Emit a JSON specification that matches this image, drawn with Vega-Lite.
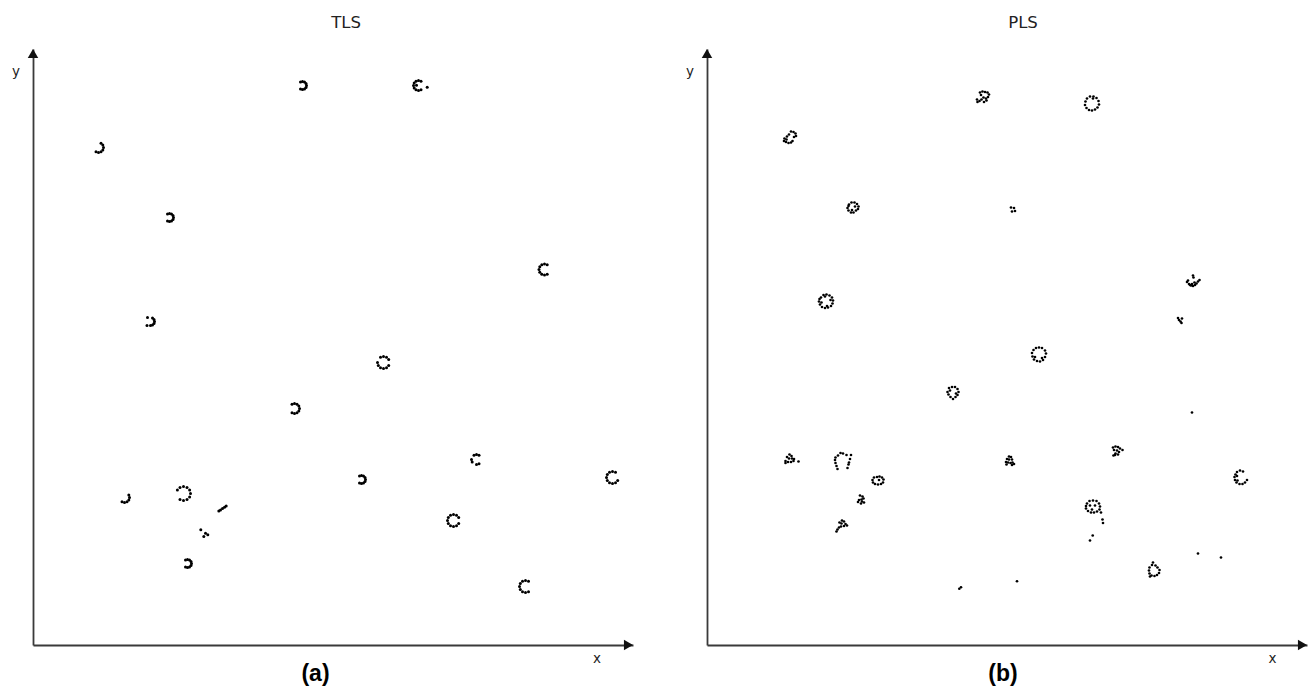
{
  "$schema": "https://vega.github.io/schema/vega-lite/v6.json",
  "background": "white",
  "padding": {"left": 11, "top": 15, "right": 5, "bottom": 5},
  "config": {
    "view": {"stroke": null},
    "axis": {"grid": false, "ticks": false, "labels": false, "domainColor": "#3a3a3a", "domainWidth": 1.8, "titleFont": "DejaVu Sans", "titleFontSize": 13.5, "titleFontWeight": "normal", "titleColor": "#222", "titleAngle": 0, "titleAlign": "center", "titleBaseline": "middle"},
    "title": {"font": "DejaVu Sans", "fontSize": 16.5, "fontWeight": "normal", "color": "#222", "offset": 17}
  },
  "datasets": {
    "tls": [
      {"x":68,"y":501.8},{"x":69.8,"y":500},{"x":70.5,"y":497.5},{"x":69.8,"y":495},{"x":68,"y":493.2},{"x":65.5,"y":492.5},{"x":63,"y":493.2},
      {"x":134.5,"y":431},{"x":136.5,"y":431.5},{"x":138.5,"y":431},{"x":140,"y":429.5},{"x":140.5,"y":427.5},{"x":140,"y":425.5},{"x":138.5,"y":424},{"x":136.5,"y":423.5},{"x":134.5,"y":424},
      {"x":119.5,"y":327},{"x":121,"y":325.5},{"x":121.5,"y":323.5},{"x":121,"y":321.5},{"x":119.5,"y":320},{"x":117.5,"y":319.5},{"x":114.5,"y":327.5},{"x":114,"y":319.5},
      {"x":267.5,"y":563},{"x":269.5,"y":563.5},{"x":271.5,"y":563},{"x":273,"y":561.5},{"x":273.5,"y":559.5},{"x":273,"y":557.5},{"x":271.5,"y":556},{"x":269.5,"y":555.5},{"x":267.5,"y":556},
      {"x":388,"y":563.8},{"x":385.5,"y":564.5},{"x":383,"y":563.8},{"x":381.2,"y":562},{"x":380.5,"y":559.5},{"x":381.2,"y":557},{"x":383,"y":555.2},{"x":385.5,"y":554.5},{"x":388,"y":555.2},{"x":383.5,"y":559.8},{"x":394.2,"y":557.8},
      {"x":514.2,"y":380.2},{"x":511.5,"y":381},{"x":508.8,"y":380.2},{"x":506.8,"y":378.2},{"x":506,"y":375.5},{"x":506.8,"y":372.8},{"x":508.8,"y":370.8},{"x":511.5,"y":370},{"x":514.2,"y":370.8},
      {"x":355.7,"y":285.5},{"x":353.5,"y":287.7},{"x":350.5,"y":288.5},{"x":347.5,"y":287.7},{"x":344.5,"y":282.5},{"x":345.3,"y":279.5},{"x":347.5,"y":277.3},{"x":350.5,"y":276.5},{"x":353.5,"y":277.3},{"x":355.7,"y":279.5},
      {"x":259,"y":240.8},{"x":261.5,"y":241.5},{"x":264,"y":240.8},{"x":265.8,"y":239},{"x":266.5,"y":236.5},{"x":265.8,"y":234},{"x":264,"y":232.2},{"x":261.5,"y":231.5},{"x":259,"y":232.2},
      {"x":446,"y":189.8},{"x":443.5,"y":190.5},{"x":441,"y":189.8},{"x":438.5,"y":185.5},{"x":439.2,"y":183},{"x":443.5,"y":180.5},{"x":446,"y":181.2},
      {"x":326.5,"y":169},{"x":328.5,"y":169.5},{"x":330.5,"y":169},{"x":332,"y":167.5},{"x":332.5,"y":165.5},{"x":332,"y":163.5},{"x":330.5,"y":162},{"x":328.5,"y":161.5},{"x":326.5,"y":162},
      {"x":582.5,"y":172.7},{"x":579.5,"y":173.5},{"x":576.5,"y":172.7},{"x":574.3,"y":170.5},{"x":573.5,"y":167.5},{"x":574.3,"y":164.5},{"x":576.5,"y":162.3},{"x":579.5,"y":161.5},{"x":582.5,"y":162.3},{"x":584.7,"y":164.5},
      {"x":425.7,"y":127.5},{"x":423.5,"y":129.7},{"x":420.5,"y":130.5},{"x":417.5,"y":129.7},{"x":415.3,"y":127.5},{"x":414.5,"y":124.5},{"x":415.3,"y":121.5},{"x":417.5,"y":119.3},{"x":420.5,"y":118.5},{"x":423.5,"y":119.3},{"x":425.7,"y":121.5},
      {"x":495.5,"y":63.7},{"x":492.5,"y":64.5},{"x":489.5,"y":63.7},{"x":487.3,"y":61.5},{"x":486.5,"y":58.5},{"x":487.3,"y":55.5},{"x":489.5,"y":53.3},{"x":492.5,"y":52.5},{"x":495.5,"y":53.3},
      {"x":95.8,"y":150},{"x":96.5,"y":147.5},{"x":95.8,"y":145},{"x":94,"y":143.2},{"x":91.5,"y":142.5},{"x":89,"y":143.2},
      {"x":144.4,"y":155},{"x":147,"y":157.6},{"x":150.5,"y":158.5},{"x":154,"y":157.6},{"x":156.6,"y":155},{"x":157.5,"y":151.5},{"x":156.6,"y":148},{"x":154,"y":145.4},{"x":150.5,"y":144.5},{"x":147,"y":145.4},
      {"x":185.8,"y":134},{"x":187.5,"y":135},{"x":189.5,"y":136.5},{"x":191.5,"y":137.7},{"x":193.2,"y":139},
      {"x":167.8,"y":115.2},{"x":172.5,"y":111.8},{"x":170.8,"y":108.5},{"x":174.8,"y":110.2},
      {"x":152.5,"y":85},{"x":154.5,"y":85.5},{"x":156.5,"y":85},{"x":158,"y":83.5},{"x":158.5,"y":81.5},{"x":158,"y":79.5},{"x":156.5,"y":78},{"x":154.5,"y":77.5},{"x":152.5,"y":78}
    ],
    "pls": [
      {"x":84,"y":513.5},{"x":86.5,"y":513},{"x":88.5,"y":511.5},{"x":89,"y":509},{"x":87,"y":508},{"x":82,"y":510.5},{"x":80,"y":508.5},{"x":77.5,"y":506.5},{"x":77,"y":504},{"x":79,"y":503},{"x":81.5,"y":502},{"x":84,"y":502.5},{"x":79.5,"y":505.5},{"x":85.5,"y":504},
      {"x":273,"y":552.5},{"x":275.5,"y":553.5},{"x":278,"y":553},{"x":280.5,"y":552.5},{"x":282,"y":550.5},{"x":281,"y":548},{"x":279,"y":546.5},{"x":276.5,"y":547.5},{"x":274.5,"y":545.5},{"x":272.5,"y":544},{"x":270.5,"y":543},{"x":270,"y":545.5},{"x":274,"y":550},{"x":277,"y":543},{"x":279.5,"y":544.5},
      {"x":142,"y":440.5},{"x":144.5,"y":442.5},{"x":147.5,"y":442.5},{"x":150,"y":441},{"x":151.5,"y":438.5},{"x":151,"y":436},{"x":149,"y":434.5},{"x":146.5,"y":432.5},{"x":144,"y":432.5},{"x":141.5,"y":434.5},{"x":140.5,"y":437},{"x":141.5,"y":439},{"x":148,"y":438.5},{"x":145,"y":435},
      {"x":304,"y":437.5},{"x":307,"y":437},{"x":305,"y":433.5},{"x":308,"y":434},
      {"x":383,"y":548.5},{"x":386.5,"y":548.5},{"x":389.5,"y":547},{"x":391.5,"y":544},{"x":392,"y":540.5},{"x":390.5,"y":537.5},{"x":388,"y":535.5},{"x":385,"y":534.5},{"x":382,"y":535},{"x":379.5,"y":537},{"x":378,"y":540},{"x":378.5,"y":543.5},{"x":380,"y":546.5},{"x":386,"y":546.5},
      {"x":114,"y":347.5},{"x":116.5,"y":350},{"x":119.5,"y":350.5},{"x":122.5,"y":349.5},{"x":125,"y":347.5},{"x":126,"y":344.5},{"x":125.5,"y":341.5},{"x":124,"y":339},{"x":121,"y":337.5},{"x":118,"y":337},{"x":115,"y":338},{"x":113,"y":340.5},{"x":112,"y":343.5},{"x":112.5,"y":346},{"x":114.5,"y":342.5},{"x":123.5,"y":345},{"x":118,"y":348.5},{"x":120,"y":339},
      {"x":329,"y":297},{"x":332,"y":297.5},{"x":335,"y":297},{"x":338,"y":294.5},{"x":339,"y":291.5},{"x":338,"y":288},{"x":336,"y":285},{"x":333,"y":283.5},{"x":330,"y":284},{"x":327,"y":285.5},{"x":325.5,"y":288.5},{"x":325,"y":292},{"x":326.5,"y":295},{"x":328,"y":288},{"x":335,"y":287},
      {"x":242,"y":257},{"x":245,"y":258},{"x":248,"y":258},{"x":250.5,"y":256},{"x":251.5,"y":253},{"x":250.5,"y":250},{"x":248.5,"y":248},{"x":246,"y":246},{"x":243.5,"y":248},{"x":241.5,"y":250.5},{"x":240.5,"y":253},{"x":243,"y":254.5},{"x":249,"y":251.5},
      {"x":486,"y":369.5},{"x":486.5,"y":367.5},{"x":481,"y":364.5},{"x":480,"y":363},{"x":482,"y":361},{"x":484,"y":359.5},{"x":486,"y":359},{"x":488,"y":360},{"x":489.5,"y":361.5},{"x":491,"y":363.5},{"x":492.5,"y":365},{"x":487.5,"y":362.5},{"x":485,"y":361},{"x":483,"y":360},
      {"x":471,"y":327},{"x":472,"y":325},{"x":473.5,"y":323.5},{"x":474.5,"y":322},{"x":475,"y":326.5},
      {"x":485,"y":232.5},
      {"x":82.5,"y":190.5},{"x":84.5,"y":189},{"x":80,"y":188},{"x":82,"y":186.5},{"x":85,"y":186.5},{"x":87,"y":186},{"x":86.5,"y":184},{"x":84,"y":183},{"x":81,"y":183},{"x":78.5,"y":184},{"x":78.5,"y":182},{"x":91.5,"y":183.5},
      {"x":128.5,"y":187.5},{"x":128,"y":185},{"x":128.5,"y":182},{"x":129.5,"y":179},{"x":130.5,"y":176},{"x":133.5,"y":192},{"x":136,"y":191.5},{"x":139.5,"y":190},{"x":144,"y":190},{"x":143,"y":186},{"x":142,"y":182.5},{"x":141.5,"y":180.5},{"x":140.5,"y":177},{"x":131,"y":189.5},
      {"x":167,"y":167.5},{"x":170,"y":168},{"x":172.5,"y":168.5},{"x":175,"y":167.5},{"x":176.5,"y":165.5},{"x":176,"y":162.5},{"x":174,"y":161},{"x":171,"y":160.5},{"x":168,"y":161},{"x":166,"y":162.5},{"x":165.5,"y":165},{"x":172,"y":165},
      {"x":153,"y":149.5},{"x":155.5,"y":148.5},{"x":156.5,"y":146.5},{"x":154.5,"y":145.5},{"x":152,"y":145},{"x":155,"y":143.5},{"x":157,"y":142.5},{"x":154,"y":141.5},{"x":151,"y":143},
      {"x":135,"y":124.5},{"x":137,"y":123.5},{"x":132.5,"y":122.5},{"x":134.5,"y":121.5},{"x":138.5,"y":121},{"x":140,"y":119.5},{"x":137,"y":119},{"x":134,"y":118.5},{"x":132,"y":117.5},{"x":130.5,"y":115.5},{"x":129.5,"y":113.5},
      {"x":302,"y":188.5},{"x":304,"y":188},{"x":300,"y":186},{"x":302,"y":185.5},{"x":305,"y":185.5},{"x":299,"y":183},{"x":301,"y":182.5},{"x":303.5,"y":182},{"x":305.5,"y":182.5},{"x":307,"y":181},{"x":299.5,"y":180.5},{"x":305,"y":180},
      {"x":406,"y":197.5},{"x":408.5,"y":198.5},{"x":411,"y":198},{"x":413,"y":196.5},{"x":415.5,"y":195},{"x":407,"y":195},{"x":410,"y":194.5},{"x":412,"y":193},{"x":408.5,"y":191.5},{"x":411,"y":190.5},{"x":406.5,"y":189.5},{"x":408,"y":190},
      {"x":533,"y":174.5},{"x":536,"y":173.5},{"x":530,"y":173},{"x":528.5,"y":170.5},{"x":527.5,"y":168},{"x":528,"y":165},{"x":529.5,"y":162.5},{"x":532.5,"y":161},{"x":535.5,"y":161},{"x":538,"y":162.5},{"x":540,"y":165},{"x":530.5,"y":164.5},{"x":530,"y":169},
      {"x":380,"y":141.5},{"x":382.5,"y":144},{"x":386,"y":144.5},{"x":389.5,"y":144},{"x":392,"y":141.5},{"x":393,"y":138.5},{"x":392.5,"y":135.5},{"x":390,"y":133.5},{"x":387,"y":132.5},{"x":384,"y":132.5},{"x":381,"y":134},{"x":379,"y":136.5},{"x":379,"y":139},{"x":383,"y":139.5},{"x":388,"y":139.5},{"x":385,"y":135.5},{"x":394,"y":132.5},{"x":395.5,"y":125.5},{"x":396,"y":122},
      {"x":385.7,"y":109.5},{"x":383,"y":104.5},
      {"x":446,"y":82.5},{"x":445,"y":80},{"x":448.5,"y":79.5},{"x":442.5,"y":77.5},{"x":450.5,"y":77.5},{"x":442,"y":74.5},{"x":452.5,"y":75},{"x":442.5,"y":71.5},{"x":452,"y":72},{"x":444.5,"y":69.5},{"x":447.5,"y":69},{"x":450,"y":70},{"x":443,"y":68.5},
      {"x":491,"y":91.5},{"x":514,"y":87.5},{"x":254,"y":57.8},{"x":252.3,"y":56.2},{"x":310,"y":63.8}
    ]
  },
  "spacing": 74,
  "bounds": "flush",
  "hconcat": [
    {
      "width": 600, "height": 596,
      "title": {"text": "TLS", "dx": 13},
      "layer": [
        {
          "data": {"name": "tls"},
          "mark": {"type": "circle", "size": 9, "color": "#000", "opacity": 1},
          "encoding": {
            "x": {"field": "x", "type": "quantitative", "scale": {"domain": [0, 600], "nice": false, "zero": false}, "axis": {"title": "x", "titleX": 563.5, "titleY": 13.5}},
            "y": {"field": "y", "type": "quantitative", "scale": {"domain": [0, 596], "nice": false, "zero": false}, "axis": {"title": "y", "titleX": -17.5, "titleY": 22}}
          }
        },
        {
          "data": {"values": [{}]},
          "mark": {"type": "point", "shape": "triangle-up", "filled": true, "size": 110, "color": "#111", "opacity": 1},
          "encoding": {"x": {"datum": 0, "type": "quantitative", "axis": {"title": "x", "titleX": 563.5, "titleY": 13.5}}, "y": {"datum": 591.46, "type": "quantitative", "axis": {"title": "y", "titleX": -17.5, "titleY": 22}}}
        },
        {
          "data": {"values": [{}]},
          "mark": {"type": "point", "shape": "triangle-right", "filled": true, "size": 110, "color": "#111", "opacity": 1},
          "encoding": {"x": {"datum": 595.46, "type": "quantitative", "axis": {"title": "x", "titleX": 563.5, "titleY": 13.5}}, "y": {"datum": 0, "type": "quantitative", "axis": {"title": "y", "titleX": -17.5, "titleY": 22}}}
        },
        {
          "data": {"values": [{"caption": "(a)"}]},
          "mark": {"type": "text", "font": "Liberation Sans", "fontSize": 23, "fontWeight": "bold", "color": "#000", "dy": 28.5, "baseline": "middle", "align": "center"},
          "encoding": {"text": {"field": "caption"}, "x": {"datum": 282.5, "type": "quantitative", "axis": {"title": "x", "titleX": 563.5, "titleY": 13.5}}, "y": {"datum": 0, "type": "quantitative", "axis": {"title": "y", "titleX": -17.5, "titleY": 22}}}
        }
      ]
    },
    {
      "width": 600, "height": 596,
      "title": {"text": "PLS", "dx": 16},
      "layer": [
        {
          "data": {"name": "pls"},
          "mark": {"type": "circle", "size": 7, "color": "#000", "opacity": 1},
          "encoding": {
            "x": {"field": "x", "type": "quantitative", "scale": {"domain": [0, 600], "nice": false, "zero": false}, "axis": {"title": "x", "titleX": 565, "titleY": 13.5}},
            "y": {"field": "y", "type": "quantitative", "scale": {"domain": [0, 596], "nice": false, "zero": false}, "axis": {"title": "y", "titleX": -17.5, "titleY": 22}}
          }
        },
        {
          "data": {"values": [{}]},
          "mark": {"type": "point", "shape": "triangle-up", "filled": true, "size": 110, "color": "#111", "opacity": 1},
          "encoding": {"x": {"datum": 0, "type": "quantitative", "axis": {"title": "x", "titleX": 565, "titleY": 13.5}}, "y": {"datum": 591.46, "type": "quantitative", "axis": {"title": "y", "titleX": -17.5, "titleY": 22}}}
        },
        {
          "data": {"values": [{}]},
          "mark": {"type": "point", "shape": "triangle-right", "filled": true, "size": 110, "color": "#111", "opacity": 1},
          "encoding": {"x": {"datum": 595.46, "type": "quantitative", "axis": {"title": "x", "titleX": 565, "titleY": 13.5}}, "y": {"datum": 0, "type": "quantitative", "axis": {"title": "y", "titleX": -17.5, "titleY": 22}}}
        },
        {
          "data": {"values": [{"caption": "(b)"}]},
          "mark": {"type": "text", "font": "Liberation Sans", "fontSize": 23, "fontWeight": "bold", "color": "#000", "dy": 28.5, "baseline": "middle", "align": "center"},
          "encoding": {"text": {"field": "caption"}, "x": {"datum": 296, "type": "quantitative", "axis": {"title": "x", "titleX": 565, "titleY": 13.5}}, "y": {"datum": 0, "type": "quantitative", "axis": {"title": "y", "titleX": -17.5, "titleY": 22}}}
        }
      ]
    }
  ]
}
